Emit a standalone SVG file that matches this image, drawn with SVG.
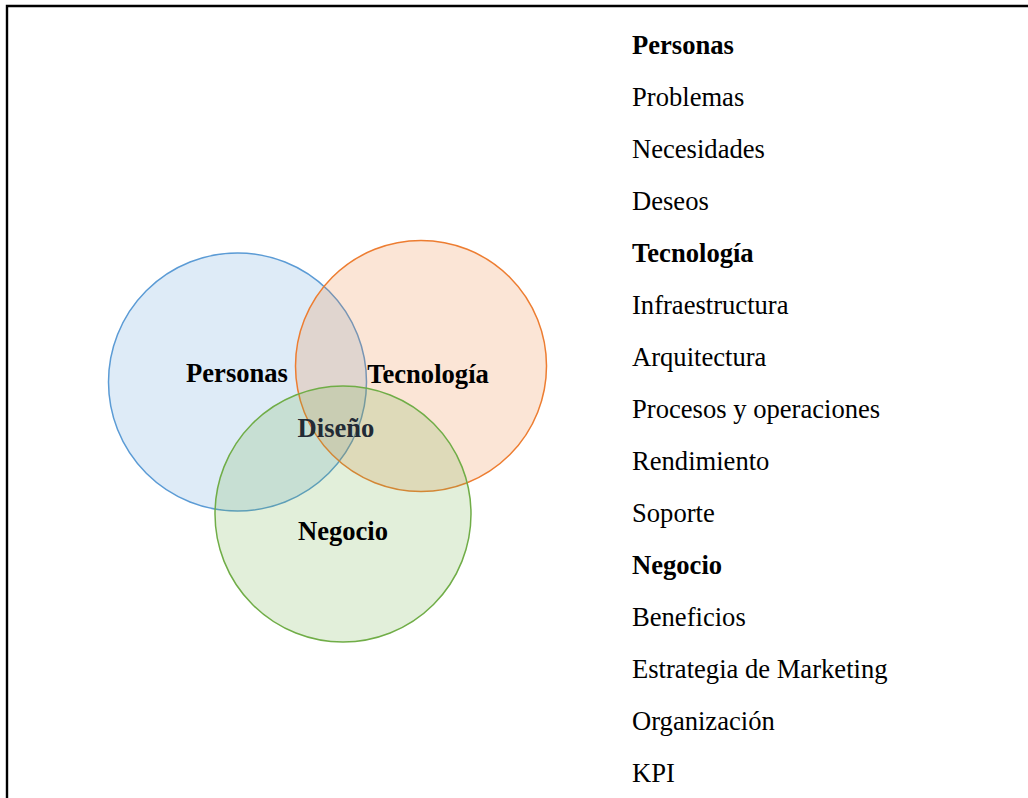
<svg xmlns="http://www.w3.org/2000/svg" width="1028" height="798" viewBox="0 0 1028 798">
<style>
.t{font-family:"Liberation Serif","Times New Roman",serif;font-size:26.6px;fill:#000}
.b{font-weight:bold}
.c{text-anchor:middle}
</style>
<rect width="1028" height="798" fill="#fff"/>
<g id="frame" fill="none" stroke="#000" stroke-width="2.4">
<path d="M7 798 V6 H1028"/>
</g>
<g id="connectors"></g>
<g id="personas">
<circle cx="237.5" cy="382" r="129" fill="#5b9bd5" fill-opacity="0.2" stroke="#5b9bd5" stroke-width="1.5"/>
</g>
<g id="tecnologia">
<circle cx="421" cy="366" r="125.5" fill="#ed7d31" fill-opacity="0.2" stroke="#ed7d31" stroke-width="1.5"/>
</g>
<g id="negocio">
<circle cx="343" cy="514" r="128" fill="#70ad47" fill-opacity="0.2" stroke="#70ad47" stroke-width="1.5"/>
</g>
<g id="labels">
<text class="t b c" x="237" y="382">Personas</text>
<text class="t b c" x="428" y="383">Tecnología</text>
<text class="t b c" x="336" y="437" style="fill:#222a35">Diseño</text>
<text class="t b c" x="343" y="540">Negocio</text>
</g>
<g id="list">
<text class="t b" x="632" y="54">Personas</text>
<text class="t" x="632" y="106">Problemas</text>
<text class="t" x="632" y="158">Necesidades</text>
<text class="t" x="632" y="210">Deseos</text>
<text class="t b" x="632" y="262">Tecnología</text>
<text class="t" x="632" y="314">Infraestructura</text>
<text class="t" x="632" y="366">Arquitectura</text>
<text class="t" x="632" y="418">Procesos y operaciones</text>
<text class="t" x="632" y="470">Rendimiento</text>
<text class="t" x="632" y="522">Soporte</text>
<text class="t b" x="632" y="574">Negocio</text>
<text class="t" x="632" y="626">Beneficios</text>
<text class="t" x="632" y="678">Estrategia de Marketing</text>
<text class="t" x="632" y="730">Organización</text>
<text class="t" x="632" y="782">KPI</text>
</g>
</svg>
